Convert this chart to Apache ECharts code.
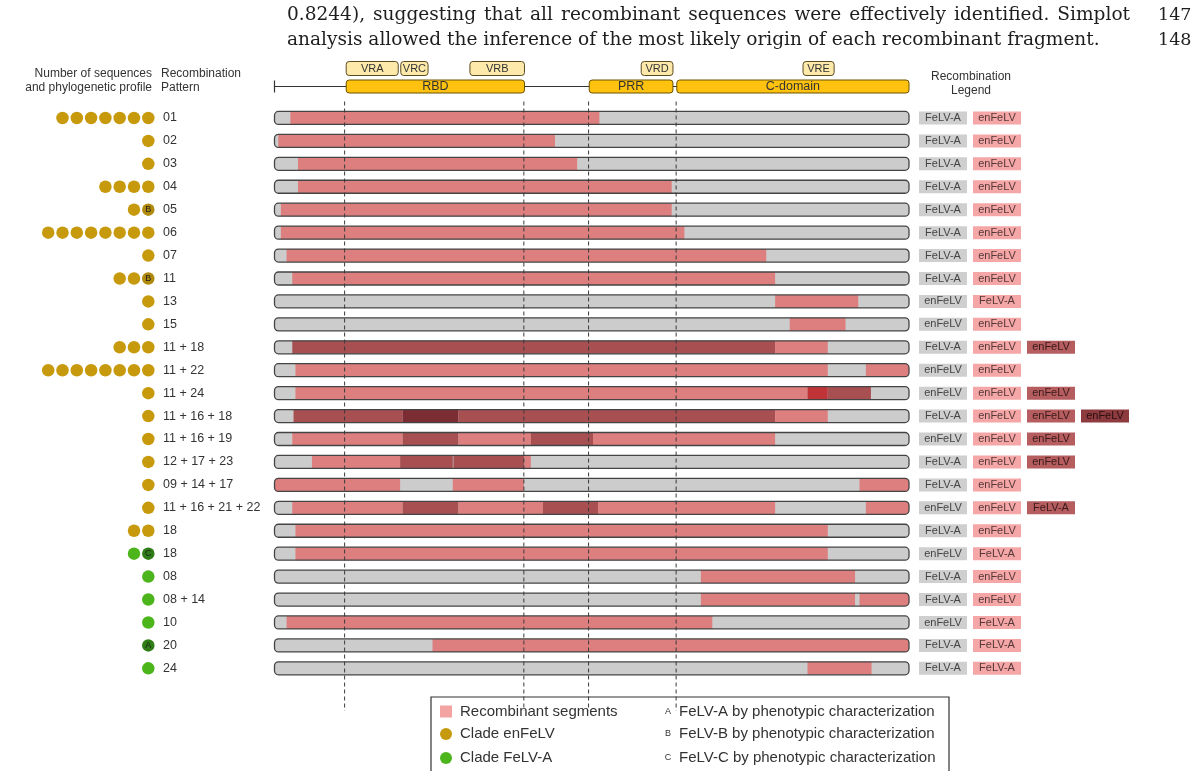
<!DOCTYPE html>
<html><head><meta charset="utf-8">
<script src="https://cdn.jsdelivr.net/npm/echarts@6/dist/echarts.min.js"></script>
<style>html,body{margin:0;padding:0;background:#fff}#c{width:1200px;height:771px}</style>
</head><body><div id="c"></div>
<script>
// ---------------- DATA ----------------
const patterns = ['01','02','03','04','05','06','07','11','13','15','11 + 18','11 + 22','11 + 24',
  '11 + 16 + 18','11 + 16 + 19','12 + 17 + 23','09 + 14 + 17','11 + 16 + 21 + 22','18','18','08','08 + 14','10','20','24'];
const sequenceCounts = [7,1,1,4,2,8,1,3,1,1,3,8,1,1,1,1,1,1,2,2,1,1,1,1,1];
const clades = ['enFeLV','enFeLV','enFeLV','enFeLV','enFeLV','enFeLV','enFeLV','enFeLV','enFeLV','enFeLV',
  'enFeLV','enFeLV','enFeLV','enFeLV','enFeLV','enFeLV','enFeLV','enFeLV','enFeLV',
  'FeLV-A','FeLV-A','FeLV-A','FeLV-A','FeLV-A','FeLV-A'];
const phenotypes = ['','','','','B','','','B','','','','','','','','','','','','C','','','','A',''];
// segments along the env gene (% of length): [start, end, kind] kind 1=recombinant, 2=second, 3=third, 4=minor
const segments = [
  [[2.5,51.2,1]],
  [[0.6,44.2,1]],
  [[3.7,47.7,1]],
  [[3.7,62.6,1]],
  [[1.0,62.6,1]],
  [[1.0,64.6,1]],
  [[1.9,77.5,1]],
  [[2.8,78.9,1]],
  [[78.9,92.0,1]],
  [[81.2,90.0,1]],
  [[2.8,78.9,2],[78.9,87.2,1]],
  [[3.3,87.2,1],[93.2,100,1]],
  [[3.3,84.0,1],[84.0,87.2,4],[87.2,94.0,2]],
  [[3.0,20.2,2],[20.2,29.0,3],[29.0,78.9,2],[78.9,87.2,1]],
  [[2.8,20.2,1],[20.2,29.0,2],[29.0,40.4,1],[40.4,50.2,2],[50.2,78.9,1]],
  [[5.9,19.8,1],[19.8,28.1,2],[28.2,39.4,2],[39.4,40.4,1]],
  [[0,19.8,1],[28.1,39.3,1],[92.2,100,1]],
  [[2.8,20.2,1],[20.2,29.0,2],[29.0,42.3,1],[42.3,51.0,2],[51.0,78.9,1],[93.2,100,1]],
  [[3.3,87.2,1]],
  [[3.3,87.2,1]],
  [[67.2,91.5,1]],
  [[67.2,91.5,1],[92.2,100,1]],
  [[1.9,69.0,1]],
  [[24.9,100,1]],
  [[84.0,94.1,1]]
];
const legendLabels = [
  ['FeLV-A','enFeLV'],['FeLV-A','enFeLV'],['FeLV-A','enFeLV'],['FeLV-A','enFeLV'],['FeLV-A','enFeLV'],
  ['FeLV-A','enFeLV'],['FeLV-A','enFeLV'],['FeLV-A','enFeLV'],['enFeLV','FeLV-A'],['enFeLV','enFeLV'],
  ['FeLV-A','enFeLV','enFeLV'],['enFeLV','enFeLV'],['enFeLV','enFeLV','enFeLV'],
  ['FeLV-A','enFeLV','enFeLV','enFeLV'],['enFeLV','enFeLV','enFeLV'],['FeLV-A','enFeLV','enFeLV'],
  ['FeLV-A','enFeLV'],['enFeLV','enFeLV','FeLV-A'],['FeLV-A','enFeLV'],['enFeLV','FeLV-A'],
  ['FeLV-A','enFeLV'],['FeLV-A','enFeLV'],['enFeLV','FeLV-A'],['FeLV-A','FeLV-A'],['FeLV-A','FeLV-A']
];
const domains = [['RBD',11.3,39.4],['PRR',49.6,62.8],['C-domain',63.4,100]];
const variableRegions = [['VRA',11.3,19.5],['VRC',19.9,24.2],['VRB',30.8,39.4],['VRD',57.8,62.8],['VRE',83.3,88.2]];
const dashPositions = [11.05, 39.3, 49.5, 63.3];
const para1 = '0.8244), suggesting that all recombinant sequences were effectively identified. Simplot';
const para2 = 'analysis allowed the inference of the most likely origin of each recombinant fragment.';
const lineNumbers = ['147','148'];

// ---------------- STYLE ----------------
const FONT = '"Liberation Sans", Arial, sans-serif';
const SEG_COLORS = {1:'#dd7f7f',2:'#a84f52',3:'#7c2d33',4:'#c03336'};
const GRAY = '#cccccc';
const CLADE_COLORS = {'enFeLV':'#c79a0e','FeLV-A':'#4cb51c'};
const CLADE_DARK = {'enFeLV':'#b08a0c','FeLV-A':'#2e7d16'};
const BAR_H = 13, R = 4;

const rowIdx = patterns.map((p,i)=>String(i));

// flatten data
const segData = [];
segments.forEach((row,i)=>row.forEach(s=>segData.push([s[0],s[1],i,s[2]])));
const bgData = patterns.map((p,i)=>[0,100,i]);
const dotData = [];
sequenceCounts.forEach((n,i)=>{
  for(let k=0;k<n;k++){
    const letter = k===0 ? phenotypes[i] : '';
    dotData.push({
      value:[8-k,i],
      itemStyle:{color: letter ? CLADE_DARK[clades[i]] : CLADE_COLORS[clades[i]], opacity:1},
      label: letter ? {show:true, formatter:letter} : {show:false}
    });
  }
});
const geneData = [];
variableRegions.forEach(v=>geneData.push([v[1],v[2],0,v[0],0]));
domains.forEach(d=>geneData.push([d[1],d[2],1,d[0],1]));

function barRect(api, s, e, row){
  const p1 = api.coord([s,row]), p2 = api.coord([e,row]);
  return {x:p1[0], y:p1[1]-BAR_H/2, width:p2[0]-p1[0], height:BAR_H};
}

// paragraph layout (measured)
const ctx = document.createElement('canvas').getContext('2d');
const SERIF = '"DejaVu Serif", serif';
ctx.font = '20px ' + SERIF;
const paraSize = 20 * 813 / ctx.measureText(para2).width;
ctx.font = paraSize + 'px ' + SERIF;
const graphics = [];
(function(){
  const words = para1.split(' ');
  const ws = words.map(w=>ctx.measureText(w).width);
  const total = ws.reduce((a,b)=>a+b,0);
  const gap = (843 - total)/(words.length-1);
  let x = 287;
  words.forEach((w,i)=>{
    graphics.push({type:'text', x:x, y:15, style:{text:w, font: paraSize+'px '+SERIF, fill:'#1e1e1e', verticalAlign:'middle', align:'left'}});
    x += ws[i] + gap;
  });
  graphics.push({type:'text', x:287, y:40, style:{text:para2, font: paraSize+'px '+SERIF, fill:'#1e1e1e', verticalAlign:'middle', align:'left'}});
  graphics.push({type:'text', x:1158, y:15, style:{text:lineNumbers[0], font: (paraSize-1)+'px '+SERIF, fill:'#1e1e1e', verticalAlign:'middle'}});
  graphics.push({type:'text', x:1158, y:40, style:{text:lineNumbers[1], font: (paraSize-1)+'px '+SERIF, fill:'#1e1e1e', verticalAlign:'middle'}});
})();
function txt(t,x,y,size,align,color){
  return {type:'text', x:x, y:y, style:{text:t, font: size+'px '+FONT, fill: color||'#333', align: align||'left', verticalAlign:'middle'}};
}
graphics.push(txt('Number of sequences',152,74,12,'right'));
graphics.push(txt('and phylogenetic profile',152,88,12,'right'));
graphics.push(txt('Recombination',161,74,12,'left'));
graphics.push(txt('Pattern',161,88,12,'left'));
graphics.push(txt('Recombination',971,77,12,'center'));
graphics.push(txt('Legend',971,91,12,'center'));
// bottom legend
graphics.push({type:'rect', shape:{x:431,y:697,width:518,height:90}, style:{fill:'none', stroke:'#333', lineWidth:1.2}, z:10});
graphics.push({type:'rect', shape:{x:440,y:705.5,width:12,height:12}, style:{fill:'#f4a3a3'}, z:10});
graphics.push({type:'circle', shape:{cx:446,cy:734,r:6}, style:{fill:CLADE_COLORS['enFeLV']}, z:10});
graphics.push({type:'circle', shape:{cx:446,cy:758,r:6}, style:{fill:CLADE_COLORS['FeLV-A']}, z:10});
graphics.push(txt('Recombinant segments',460,711.5,15,'left','#333'));
graphics.push(txt('Clade enFeLV',460,734,15,'left','#333'));
graphics.push(txt('Clade FeLV-A',460,758,15,'left','#333'));
[['A','FeLV-A by phenotypic characterization',711.5],['B','FeLV-B by phenotypic characterization',734],['C','FeLV-C by phenotypic characterization',758]].forEach(r=>{
  graphics.push(txt(r[0],668,r[2],9,'center','#333'));
  graphics.push(txt(r[1],679,r[2],15,'left','#333'));
});

const boxStyles = {
  b0:{backgroundColor:'#cfcfcf', color:'#444'},
  b1:{backgroundColor:'#f5a6a6', color:'#553838'},
  b2:{backgroundColor:'#b55d5f', color:'#3a1a1a'},
  b3:{backgroundColor:'#8e3b3f', color:'#2a0e10'}
};
const rich = {sp:{width:6, align:'center', fontSize:11}};
Object.keys(boxStyles).forEach(k=>{
  rich[k] = Object.assign({width:48, height:13, lineHeight:13, align:'center', fontSize:11, fontFamily:FONT}, boxStyles[k]);
});

const GL = 274.5, GW = 634.5, GT = 106.5, GH = 573.3;
const option = {
  animation:false,
  textStyle:{fontFamily:FONT},
  grid:[
    {left:GL, width:GW, top:GT, height:GH},
    {left:GL, width:GW, top:59.5, height:36},
    {left:26.75, width:128.7, top:GT, height:GH}
  ],
  xAxis:[
    {gridIndex:0, type:'value', min:0, max:100, show:false},
    {gridIndex:1, type:'value', min:0, max:100, show:false},
    {gridIndex:2, type:'value', min:-0.5, max:8.5, show:false}
  ],
  yAxis:[
    {gridIndex:0, type:'category', data:patterns, inverse:true, axisLine:{show:false}, axisTick:{show:false}, splitLine:{show:false},
      axisLabel:{margin:111.5, align:'left', fontSize:12.5, color:'#333', interval:0}},
    {gridIndex:0, type:'category', position:'right', data:rowIdx, inverse:true, axisLine:{show:false}, axisTick:{show:false}, splitLine:{show:false},
      axisLabel:{margin:10, align:'left', interval:0, rich:rich,
        formatter:(v,i)=>legendLabels[i].map((t,j)=>'{b'+j+'|'+t+'}').join('{sp| }')}},
    {gridIndex:1, type:'category', data:['regions','domains'], inverse:true, show:false},
    {gridIndex:2, type:'category', data:rowIdx, inverse:true, show:false}
  ],
  graphic: graphics,
  series:[
    {type:'custom', xAxisIndex:0, yAxisIndex:0, z:1, data:bgData, encode:{x:[0,1], y:2},
      renderItem:(p,api)=>({type:'rect', shape:Object.assign(barRect(api,0,100,api.value(2)),{r:R}), style:{fill:GRAY}})},
    {type:'custom', xAxisIndex:0, yAxisIndex:0, z:2, data:segData, encode:{x:[0,1], y:2},
      renderItem:(p,api)=>{
        const s=api.value(0), e=api.value(1), k=api.value(3);
        const rr=[s<=0.5?R:0, e>=99.5?R:0, e>=99.5?R:0, s<=0.5?R:0];
        return {type:'rect', shape:Object.assign(barRect(api,s,e,api.value(2)),{r:rr}), style:{fill:SEG_COLORS[k]}};
      }},
    {type:'custom', xAxisIndex:0, yAxisIndex:0, z:3, data:bgData, encode:{x:[0,1], y:2},
      renderItem:(p,api)=>({type:'rect', shape:Object.assign(barRect(api,0,100,api.value(2)),{r:R}), style:{fill:null, stroke:'#444', lineWidth:1.3}})},
    {type:'custom', xAxisIndex:0, yAxisIndex:0, z:4, data:dashPositions.map(v=>[v,0]), encode:{x:0, y:1},
      renderItem:(p,api)=>{
        const cs=p.coordSys; const x=api.coord([api.value(0),0])[0];
        return {type:'line', shape:{x1:x,y1:cs.y-5,x2:x,y2:cs.y+cs.height+31}, style:{stroke:'#3a3a3a', lineWidth:1, lineDash:[4,3]}};
      }},
    // gene backbone
    {type:'custom', xAxisIndex:1, yAxisIndex:2, z:1, data:[[0,100,1]], encode:{x:[0,1], y:2},
      renderItem:(p,api)=>{
        const a=api.coord([api.value(0),1]), b=api.coord([api.value(1),1]);
        return {type:'group', children:[
          {type:'line', shape:{x1:a[0],y1:a[1],x2:b[0],y2:b[1]}, style:{stroke:'#333', lineWidth:1}},
          {type:'line', shape:{x1:a[0],y1:a[1]-6,x2:a[0],y2:a[1]+6}, style:{stroke:'#333', lineWidth:1.2}}
        ]};
      }},
    // gene domains and variable regions
    {type:'custom', xAxisIndex:1, yAxisIndex:2, z:2, data:geneData, encode:{x:[0,1], y:2},
      renderItem:(p,api)=>{
        const lvl=api.value(2);
        const a=api.coord([api.value(0),lvl]), b=api.coord([api.value(1),lvl]);
        const h = lvl===1 ? 13 : 14;
        const name = geneData[p.dataIndex][3];
        return {type:'group', children:[
          {type:'rect', shape:{x:a[0], y:a[1]-h/2, width:b[0]-a[0], height:h, r:3},
            style:{fill: lvl===1 ? '#ffc20e' : '#fde9a9', stroke: lvl===1 ? '#6b5200' : '#5a4a20', lineWidth:1}},
          {type:'text', x:(a[0]+b[0])/2, y:a[1]+0.5, style:{text:name, font:(lvl===1?12.5:11)+'px '+FONT, fill:'#333', align:'center', verticalAlign:'middle'}}
        ]};
      }},
    // sequence dots
    {type:'scatter', xAxisIndex:2, yAxisIndex:3, symbolSize:12.5, data:dotData,
      itemStyle:{opacity:1},
      label:{position:'inside', fontSize:9, color:'#222', fontFamily:FONT}}
  ]
};
const chart = echarts.init(document.getElementById('c'), null, {renderer:'canvas'});
chart.setOption(option);
</script>
</body></html>
